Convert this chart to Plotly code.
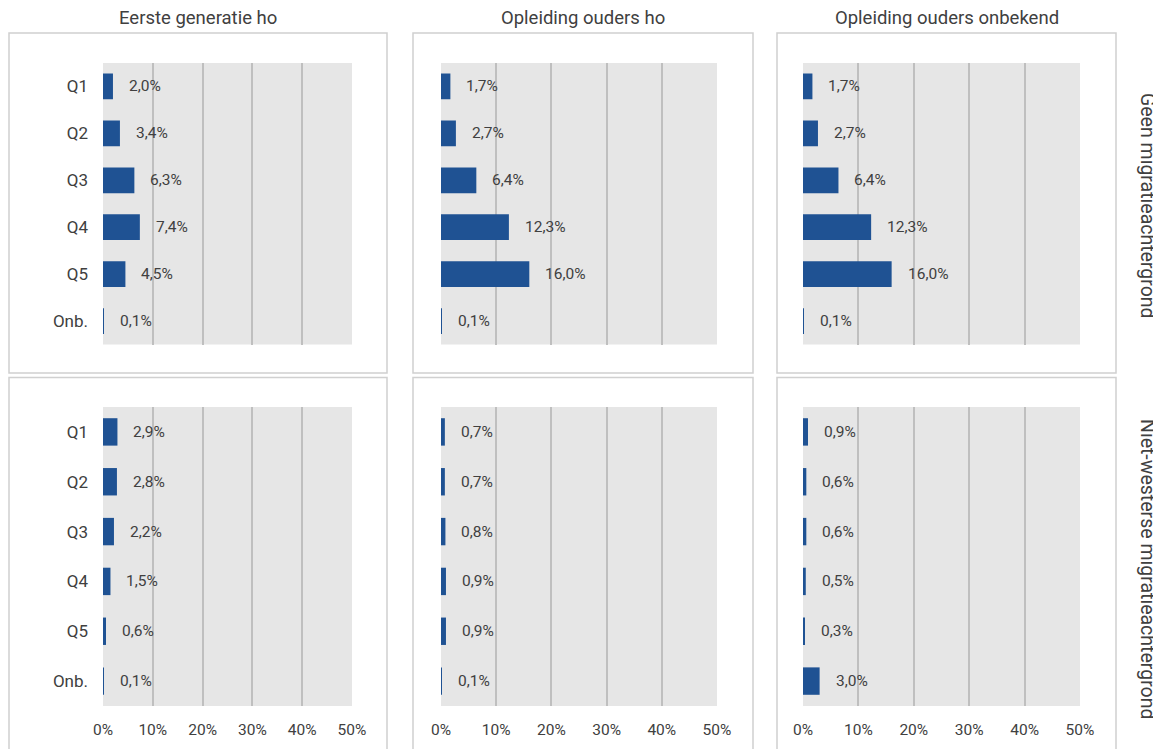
import plotly.graph_objects as go

categories = ["Q1", "Q2", "Q3", "Q4", "Q5", "Onb."]
col_titles = ["Eerste generatie ho", "Opleiding ouders ho", "Opleiding ouders onbekend"]
row_titles = ["Geen migratieachtergrond", "Niet-westerse migratieachtergrond"]

# values in %
geen_eerste_gen = [2.0, 3.4, 6.3, 7.4, 4.5, 0.1]
geen_ouders_ho = [1.7, 2.7, 6.4, 12.3, 16.0, 0.1]
geen_ouders_onb = [1.7, 2.7, 6.4, 12.3, 16.0, 0.1]
nw_eerste_gen = [2.9, 2.8, 2.2, 1.5, 0.6, 0.1]
nw_ouders_ho = [0.7, 0.7, 0.8, 0.9, 0.9, 0.1]
nw_ouders_onb = [0.9, 0.6, 0.6, 0.5, 0.3, 3.0]

x_ticks = [0, 10, 20, 30, 40, 50]
x_ticklabels = ["0%", "10%", "20%", "30%", "40%", "50%"]

panels = [
    [geen_eerste_gen, geen_ouders_ho, geen_ouders_onb],
    [nw_eerste_gen, nw_ouders_ho, nw_ouders_onb],
]

W, H = 1161, 749
OFF = 8  # page body margin
FONT = "Roboto"
TXT = "#404040"
BAR = "#1F5293"

# pixel geometry (screen pixels) of the plot areas
col_x = [(103, 352), (441, 717), (803, 1080)]
row_y = [(63, 344.5), (407, 706)]
col_box = [(9, 387), (413, 753), (777, 1116)]
row_box = [(33, 373), (377.5, 770)]
row_title_y = [206, 569]

def px(x):
    return (x - OFF) / W

def py(y):
    return 1 - (y - OFF) / H

fig = go.Figure()
annotations = []
shapes = []

for r in range(2):
    for c in range(3):
        idx = r * 3 + c + 1
        xa = "x" if idx == 1 else f"x{idx}"
        ya = "y" if idx == 1 else f"y{idx}"
        vals = panels[r][c]
        fig.add_trace(go.Bar(
            x=vals, y=categories, orientation="h",
            marker=dict(color=BAR, line=dict(width=0)),
            width=0.55, xaxis=xa, yaxis=ya, showlegend=False,
            hoverinfo="skip",
        ))
        for cat, v in zip(categories, vals):
            annotations.append(dict(
                x=v, y=cat, xref=xa, yref=ya, xanchor="left", yanchor="middle",
                xshift=14, showarrow=False,
                text=f"{v:.1f}%".replace(".", ","),
                font=dict(family=FONT, size=15.5, color=TXT),
            ))
        xkey = "xaxis" if idx == 1 else f"xaxis{idx}"
        ykey = "yaxis" if idx == 1 else f"yaxis{idx}"
        fig.layout[xkey] = dict(
            domain=[px(col_x[c][0]), px(col_x[c][1])],
            anchor=ya, range=[0, 50], tickvals=x_ticks, ticktext=x_ticklabels,
            showticklabels=(r == 1), showgrid=True, gridcolor="#BFBFBF", gridwidth=2,
            zeroline=False, showline=False, ticks="", ticklabelstandoff=12,
            automargin=False,
            tickfont=dict(family=FONT, size=15.5, color=TXT), fixedrange=True,
        )
        fig.layout[ykey] = dict(
            domain=[py(row_y[r][1]), py(row_y[r][0])],
            anchor=xa, categoryorder="array", categoryarray=categories[::-1],
            autorange=False, range=[-0.5, 5.5],
            showticklabels=(c == 0), ticks="", ticklabelstandoff=14,
            showgrid=False, zeroline=False, showline=False, automargin=False,
            tickfont=dict(family=FONT, size=17, color=TXT), fixedrange=True,
        )
        # plot area background
        shapes.append(dict(
            type="rect", xref="paper", yref="paper", layer="below",
            x0=px(col_x[c][0]), x1=px(col_x[c][1]),
            y0=py(row_y[r][1]), y1=py(row_y[r][0]),
            fillcolor="#E6E6E6", line=dict(width=0),
        ))
        # panel box
        shapes.append(dict(
            type="rect", xref="paper", yref="paper", layer="below",
            x0=px(col_box[c][0]), x1=px(col_box[c][1]),
            y0=py(row_box[r][1]), y1=py(row_box[r][0]),
            fillcolor="rgba(0,0,0,0)", line=dict(color="#D0D0D0", width=1.5),
        ))

for c, t in enumerate(col_titles):
    annotations.append(dict(
        x=px((col_box[c][0] + col_box[c][1]) / 2), y=py(18), xref="paper", yref="paper",
        xanchor="center", yanchor="middle", showarrow=False, text=t,
        font=dict(family=FONT, size=18.5, color=TXT),
    ))

for r, t in enumerate(row_titles):
    annotations.append(dict(
        x=px(1148), y=py(row_title_y[r]), xref="paper", yref="paper",
        xanchor="center", yanchor="middle", showarrow=False, text=t, textangle=90,
        font=dict(family=FONT, size=19.5, color=TXT),
    ))

fig.update_layout(
    width=W, height=H, margin=dict(l=0, r=0, t=0, b=0, autoexpand=False),
    paper_bgcolor="white", plot_bgcolor="rgba(0,0,0,0)",
    annotations=annotations, shapes=shapes, bargap=0.45,
)

fig.write_html("out.html")
